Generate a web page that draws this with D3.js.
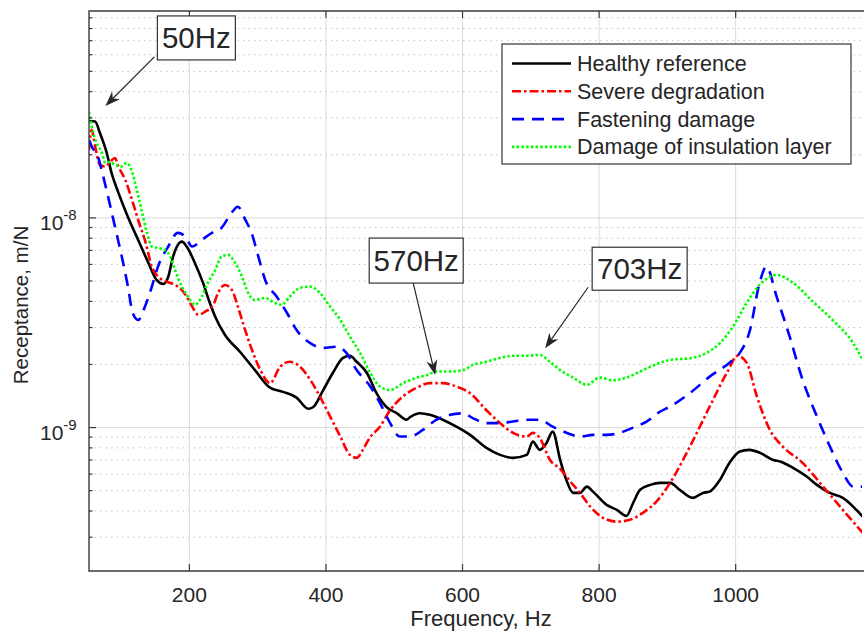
<!DOCTYPE html>
<html lang="en">
  <head>
    <meta charset="utf-8" />
    <title>Receptance</title>
    <script type="text/javascript" src="https://cdn.jsdelivr.net/npm/d3@7"></script>
    <style type="text/css">
      body { margin: 0; background: #fff; }
      svg text { font-family: "Liberation Sans", Arial, sans-serif; fill: #262626; }
    </style>
  </head>

  <body>
    <script type="text/javascript">
      // receptance values are given in 1e-9 m/N
      const unit = 1e-9;

      const healthyHz = [53, 62, 69, 79, 86, 96, 110, 125, 140, 152, 162, 169, 176, 189, 196, 208, 220, 230, 238, 252, 274, 296, 318, 337, 357, 374, 381, 396, 410, 425, 435, 445, 460, 474, 489, 504, 518, 523, 538, 552, 571, 591, 611, 635, 655, 674, 694, 703, 713, 723, 732, 743, 752, 762, 772, 782, 791, 811, 826, 840, 850, 860, 875, 889, 904, 918, 937, 952, 962, 977, 991, 1006, 1020, 1036, 1055, 1065, 1084, 1104, 1119, 1138, 1157, 1172, 1186];
      const healthyVal = [29, 28.8, 25.4, 20.4, 16.4, 13.2, 10.1, 7.85, 6.1, 5.06, 4.84, 5.23, 6.52, 7.71, 7.3, 6.1, 4.9, 3.93, 3.37, 2.77, 2.3, 1.88, 1.55, 1.48, 1.39, 1.23, 1.25, 1.51, 1.82, 2.15, 2.2, 2.06, 1.82, 1.46, 1.25, 1.17, 1.09, 1.12, 1.17, 1.15, 1.09, 1.01, 0.923, 0.8, 0.741, 0.717, 0.741, 0.857, 0.783, 0.845, 0.957, 0.701, 0.563, 0.488, 0.488, 0.523, 0.495, 0.428, 0.405, 0.379, 0.438, 0.505, 0.533, 0.545, 0.545, 0.505, 0.462, 0.488, 0.495, 0.563, 0.679, 0.769, 0.783, 0.757, 0.701, 0.689, 0.642, 0.584, 0.533, 0.488, 0.462, 0.42, 0.376];

      const severeHz = [53, 57, 62, 69, 77, 84, 91, 96, 106, 116, 125, 136, 145, 154, 167, 179, 189, 196, 204, 213, 223, 235, 242, 252, 262, 271, 277, 289, 304, 318, 333, 347, 362, 377, 391, 406, 421, 435, 445, 454, 464, 479, 494, 513, 533, 552, 571, 591, 611, 635, 655, 674, 694, 703, 713, 728, 743, 757, 772, 787, 806, 826, 845, 864, 884, 904, 933, 962, 987, 1003, 1016, 1031, 1050, 1069, 1098, 1128, 1157, 1186];
      const severeVal = [21.1, 26.3, 21.9, 17.9, 17.6, 18.5, 19.3, 17.6, 15.2, 12.2, 9.78, 7.6, 5.86, 5.25, 4.97, 4.79, 4.54, 4.21, 3.78, 3.45, 3.57, 3.85, 4.39, 4.79, 4.54, 3.78, 3.26, 2.48, 1.88, 1.63, 1.95, 2.06, 1.95, 1.69, 1.41, 1.13, 0.906, 0.741, 0.717, 0.783, 0.893, 1.01, 1.21, 1.41, 1.55, 1.63, 1.63, 1.57, 1.46, 1.21, 1.05, 0.943, 0.906, 0.943, 0.893, 0.701, 0.635, 0.557, 0.488, 0.42, 0.371, 0.356, 0.363, 0.392, 0.444, 0.545, 0.812, 1.26, 1.82, 2.2, 2.04, 1.41, 0.975, 0.812, 0.679, 0.523, 0.405, 0.315];

      const fasteningHz = [53, 57, 66, 74, 81, 91, 101, 110, 117, 125, 135, 145, 154, 169, 183, 194, 204, 218, 233, 247, 262, 271, 282, 291, 301, 311, 328, 343, 357, 377, 396, 416, 430, 445, 465, 479, 494, 508, 523, 542, 562, 582, 601, 615, 635, 655, 674, 694, 713, 732, 753, 772, 791, 811, 830, 849, 870, 889, 904, 933, 962, 991, 1006, 1021, 1035, 1045, 1060, 1079, 1098, 1119, 1138, 1157, 1172, 1186];
      const fasteningVal = [23.6, 21.9, 19.6, 15.7, 12.6, 9.09, 6.54, 4.7, 3.52, 3.26, 3.78, 4.7, 5.86, 7.3, 8.48, 8.14, 7.3, 7.85, 8.48, 8.96, 10.6, 11.3, 9.78, 8.48, 6.54, 5.06, 4.21, 3.52, 2.92, 2.53, 2.4, 2.43, 2.27, 1.88, 1.57, 1.31, 1.05, 0.906, 0.906, 0.975, 1.09, 1.15, 1.17, 1.11, 1.05, 1.05, 1.07, 1.09, 1.09, 1.01, 0.943, 0.906, 0.923, 0.923, 0.943, 0.997, 1.07, 1.19, 1.26, 1.46, 1.75, 2.04, 2.27, 2.92, 4.9, 5.86, 4.21, 2.72, 1.69, 1.13, 0.812, 0.608, 0.523, 0.523];

      const insulationHz = [53, 57, 64, 72, 77, 84, 91, 101, 108, 116, 123, 130, 138, 145, 154, 164, 172, 179, 189, 198, 208, 218, 227, 238, 247, 257, 267, 277, 286, 296, 311, 325, 335, 347, 362, 377, 391, 406, 421, 435, 450, 465, 479, 494, 513, 533, 548, 562, 582, 601, 615, 635, 655, 674, 694, 713, 728, 743, 762, 782, 801, 820, 840, 860, 875, 904, 937, 957, 977, 996, 1016, 1035, 1060, 1084, 1113, 1142, 1172, 1186];
      const insulationVal = [32.1, 27.3, 22.8, 20.4, 18.3, 18.5, 17.9, 17.6, 18.3, 16.6, 13.6, 10.9, 8.48, 7.3, 7.19, 7.03, 6.54, 5.65, 4.7, 4.21, 3.85, 4.21, 4.9, 5.65, 6.54, 6.66, 6.1, 5.25, 4.39, 4.06, 4.15, 3.93, 3.85, 4.21, 4.64, 4.7, 4.39, 3.78, 3.26, 2.72, 2.27, 1.82, 1.57, 1.51, 1.63, 1.73, 1.78, 1.85, 1.85, 1.88, 1.99, 2.06, 2.15, 2.2, 2.2, 2.22, 2.06, 1.88, 1.73, 1.6, 1.73, 1.68, 1.73, 1.85, 1.95, 2.1, 2.15, 2.27, 2.53, 3.03, 3.93, 4.79, 5.35, 4.9, 3.99, 3.26, 2.53, 2.1];

      const seriesNames = ["Healthy reference", "Severe degradation", "Fastening damage", "Damage of insulation layer"];
      const xTicks = [200, 400, 600, 800, 1000];
      const yMajorExp = [-9, -8];

      // arrow tips of the three call-outs (Hz, 1e-9 m/N)
      const noteLabels = ["50Hz", "570Hz", "703Hz"];
      const noteHz = [77, 560, 721];
      const noteVal = [34.2, 1.78, 2.39];

      const width = 864, height = 634;
      const pLeft = 89, pRight = 862, pTop = 11, pBottom = 571;

      const svg = d3.select("body").append("svg")
        .attr("width", width)
        .attr("height", height);

      const x = d3.scaleLinear().domain([53, 1185]).range([pLeft, pRight]);
      const y = d3.scaleLog().domain([2.07e-10, 9.7e-8]).range([pBottom, pTop]);

      // grid
      const minor = y.ticks().filter(function (d) {
        return Math.abs(Math.log10(d) - Math.round(Math.log10(d))) > 1e-6;
      });
      svg.append("g").selectAll("line").data(minor).enter().append("line")
        .attr("x1", pLeft).attr("x2", width)
        .attr("y1", d => y(d)).attr("y2", d => y(d))
        .attr("stroke", "#c4c4c4").attr("stroke-width", 1)
        .attr("stroke-dasharray", "1.5,4");

      svg.append("g").selectAll("line").data(yMajorExp).enter().append("line")
        .attr("x1", pLeft).attr("x2", width)
        .attr("y1", d => y(Math.pow(10, d))).attr("y2", d => y(Math.pow(10, d)))
        .attr("stroke", "#dadada").attr("stroke-width", 1);

      svg.append("g").selectAll("line").data(xTicks).enter().append("line")
        .attr("x1", d => x(d)).attr("x2", d => x(d))
        .attr("y1", pTop).attr("y2", pBottom)
        .attr("stroke", "#dadada").attr("stroke-width", 1);

      // curves
      svg.append("clipPath").attr("id", "plotclip")
        .append("rect").attr("x", pLeft).attr("y", pTop)
        .attr("width", pRight - pLeft).attr("height", pBottom - pTop);

      const series = [
        { hz: healthyHz, val: healthyVal, color: "#000000", dash: null },
        { hz: severeHz, val: severeVal, color: "#ff0000", dash: "9,3,2.5,3" },
        { hz: fasteningHz, val: fasteningVal, color: "#0000ff", dash: "12,8" },
        { hz: insulationHz, val: insulationVal, color: "#00ff00", dash: "2.5,2.2" }
      ];

      const line = d3.line()
        .x(d => x(d[0]))
        .y(d => y(d[1] * unit))
        .curve(d3.curveMonotoneX);

      svg.append("g").attr("clip-path", "url(#plotclip)")
        .selectAll("path").data(series).enter().append("path")
        .attr("d", s => line(d3.zip(s.hz, s.val)))
        .attr("fill", "none")
        .attr("stroke", s => s.color)
        .attr("stroke-width", 2.6)
        .attr("stroke-linejoin", "round")
        .attr("stroke-dasharray", s => s.dash);

      // frame and ticks
      const axisColor = "#3a3a3a";
      svg.append("path")
        .attr("d", `M${width},${pTop}H${pLeft}V${pBottom}H${width}`)
        .attr("fill", "none").attr("stroke", axisColor).attr("stroke-width", 1.4);

      svg.append("g").selectAll("path").data(xTicks).enter().append("path")
        .attr("d", d => `M${x(d)},${pBottom}v-7M${x(d)},${pTop}v7`)
        .attr("stroke", axisColor).attr("stroke-width", 1.2);

      svg.append("g").selectAll("line").data(minor).enter().append("line")
        .attr("x1", pLeft).attr("x2", pLeft + 3.5)
        .attr("y1", d => y(d)).attr("y2", d => y(d))
        .attr("stroke", axisColor).attr("stroke-width", 1.2);

      svg.append("g").selectAll("line").data(yMajorExp).enter().append("line")
        .attr("x1", pLeft).attr("x2", pLeft + 7)
        .attr("y1", d => y(Math.pow(10, d))).attr("y2", d => y(Math.pow(10, d)))
        .attr("stroke", axisColor).attr("stroke-width", 1.2);

      // tick labels
      svg.append("g").selectAll("text").data(xTicks).enter().append("text")
        .attr("x", d => x(d)).attr("y", 602)
        .attr("text-anchor", "middle")
        .style("font-size", "21px")
        .text(d => d);

      const yLab = svg.append("g").selectAll("text").data(yMajorExp).enter().append("text")
        .attr("x", 40).attr("y", d => y(Math.pow(10, d)) + 12)
        .style("font-size", "21px");
      yLab.append("tspan").text("10");
      yLab.append("tspan").attr("dy", -10).style("font-size", "15px").text(d => d);

      // axis titles
      svg.append("text")
        .attr("x", 481).attr("y", 626)
        .attr("text-anchor", "middle")
        .style("font-size", "22px")
        .text("Frequency, Hz");

      svg.append("text")
        .attr("transform", "translate(28,305) rotate(-90)")
        .attr("text-anchor", "middle")
        .style("font-size", "20.5px")
        .text("Receptance, m/N");

      // legend
      const legend = svg.append("g").attr("transform", "translate(502,44)");
      legend.append("rect")
        .attr("width", 349).attr("height", 120)
        .attr("fill", "#fff").attr("stroke", "#333").attr("stroke-width", 1.2);
      const rows = legend.selectAll("g.row").data(series).enter().append("g")
        .attr("class", "row")
        .attr("transform", (d, i) => `translate(0,${19.5 + i * 27.8})`);
      rows.append("line")
        .attr("x1", 10).attr("x2", 69)
        .attr("stroke", d => d.color).attr("stroke-width", 2.6)
        .attr("stroke-dasharray", d => d.dash);
      rows.append("text")
        .attr("x", 75).attr("y", 7.5)
        .style("font-size", "21.5px")
        .text((d, i) => seriesNames[i]);

      // call-outs: box offset from arrow tip, arrow tail offset from tip
      const noteBox = [
        { dx: 52, dy: -90, w: 78, h: 44, tx: 49, ty: -49 },
        { dx: -66, dy: -137, w: 94, h: 45, tx: -22, ty: -92 },
        { dx: 47, dy: -101, w: 95, h: 43, tx: 43, ty: -61 }
      ];
      const notes = svg.append("g").selectAll("g").data(noteLabels).enter().append("g");
      notes.each(function (label, i) {
        const g = d3.select(this);
        const px = x(noteHz[i]), py = y(noteVal[i] * unit);
        const b = noteBox[i];
        const tx = px + b.tx, ty = py + b.ty;
        const ang = Math.atan2(py - ty, px - tx);
        const len = 15, half = 5.5;
        const bx = px - len * Math.cos(ang), by = py - len * Math.sin(ang);
        const nx = -Math.sin(ang), ny = Math.cos(ang);
        const mx = px - 0.7 * len * Math.cos(ang), my = py - 0.7 * len * Math.sin(ang);
        g.append("line")
          .attr("x1", tx).attr("y1", ty).attr("x2", mx).attr("y2", my)
          .attr("stroke", "#262626").attr("stroke-width", 1.2);
        g.append("path")
          .attr("d", `M${px},${py}L${bx + nx * half},${by + ny * half}L${mx},${my}L${bx - nx * half},${by - ny * half}Z`)
          .attr("fill", "#262626");
        g.append("rect")
          .attr("x", px + b.dx).attr("y", py + b.dy)
          .attr("width", b.w).attr("height", b.h)
          .attr("fill", "#fff").attr("stroke", "#333").attr("stroke-width", 1.2);
        g.append("text")
          .attr("x", px + b.dx + b.w / 2).attr("y", py + b.dy + b.h / 2 + 10.5)
          .attr("text-anchor", "middle")
          .style("font-size", "29.5px")
          .text(label);
      });
    </script>
  </body>
</html>
